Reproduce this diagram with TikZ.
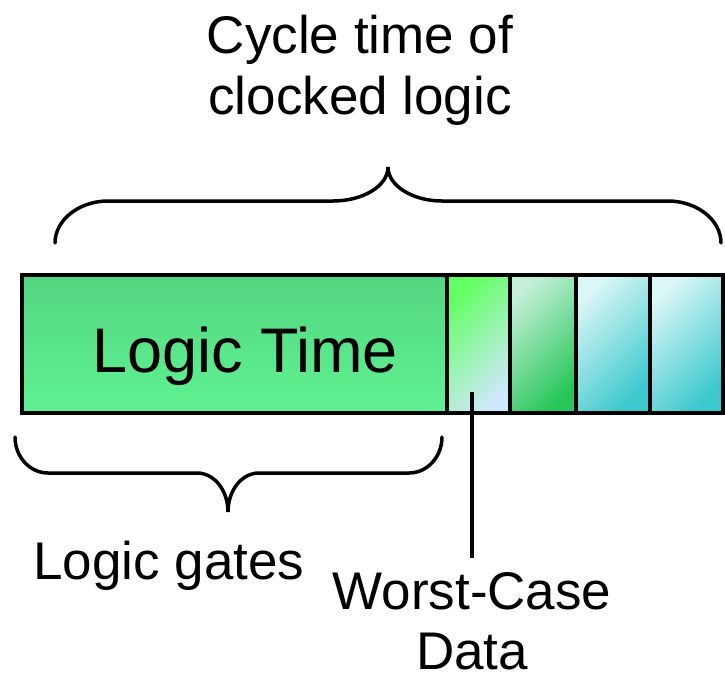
\documentclass[tikz,border=0pt]{standalone}
\usepackage{fontspec}
\setmainfont{Liberation Sans}
\definecolor{logicTop}{RGB}{82,214,128}
\definecolor{logicBot}{RGB}{96,242,146}
\definecolor{cOneA}{RGB}{100,255,100}
\definecolor{cOneB}{RGB}{205,232,250}
\definecolor{cTwoA}{RGB}{195,238,215}
\definecolor{cTwoB}{RGB}{40,198,90}
\definecolor{cThrA}{RGB}{218,246,246}
\definecolor{cThrB}{RGB}{60,200,205}
\tikzset{
  cell/.style={draw=black, line width=4pt, inner sep=0pt, minimum height=138pt},
  brace/.style={draw=black, line width=3.5pt, line cap=round},
  lbl/.style={inner sep=0pt, anchor=base, align=center},
}
\begin{document}
\begin{tikzpicture}[x=1pt,y=-1pt]
\useasboundingbox (0,0) rectangle (725,677);
% bar
\node[cell, minimum width=425pt, top color=logicTop, bottom color=logicBot] (logic) at (234.5,344) {};
\node[cell, minimum width=63pt, top color=cOneA, bottom color=cOneB, shading angle=45] (c1) at (478.5,344) {};
\node[cell, minimum width=66pt, top color=cTwoA, bottom color=cTwoB, shading angle=45] (c2) at (543,344) {};
\node[cell, minimum width=74pt, top color=cThrA, bottom color=cThrB, shading angle=45] (c3) at (613,344) {};
\node[cell, minimum width=73pt, top color=cThrA, bottom color=cThrB, shading angle=45] (c4) at (686.5,344) {};
% texts
\node[lbl, font=\fontsize{63}{72}\selectfont] (lt) at (245,372) {Logic Time};
\node[lbl, font=\fontsize{53}{61}\selectfont] (t1) at (360,53) {Cycle time of};
\node[lbl, font=\fontsize{53}{61}\selectfont] (t2) at (360,114) {clocked logic};
\node[lbl, font=\fontsize{53}{61}\selectfont] (lg) at (169,579) {Logic gates};
\node[lbl, font=\fontsize{53}{61}\selectfont] (wc) at (472,609) {Worst-Case};
\node[lbl, font=\fontsize{53}{61}\selectfont] (da) at (472,669) {Data};
% upper brace
\path[brace] (55,243) .. controls (55,220) and (79,201) .. (108,201)
  -- (333,201) .. controls (363,201) and (388,186) .. (388,167)
  .. controls (388,186) and (413,201) .. (442,201)
  -- (668,201) .. controls (697,201) and (721,220) .. (721,243);
% lower brace
\path[brace] (15,437) .. controls (15,457) and (30,473) .. (48,473)
  -- (197,473) .. controls (214,473) and (228,490) .. (228,512)
  .. controls (228,490) and (242,473) .. (259,473)
  -- (409,473) .. controls (427,473) and (442,457) .. (442,437);
% pointer
\coordinate (ptop) at (472,392);
\coordinate (pbot) at (472,558);
\draw[line width=4pt] (ptop) -- (pbot);
\end{tikzpicture}
\end{document}
